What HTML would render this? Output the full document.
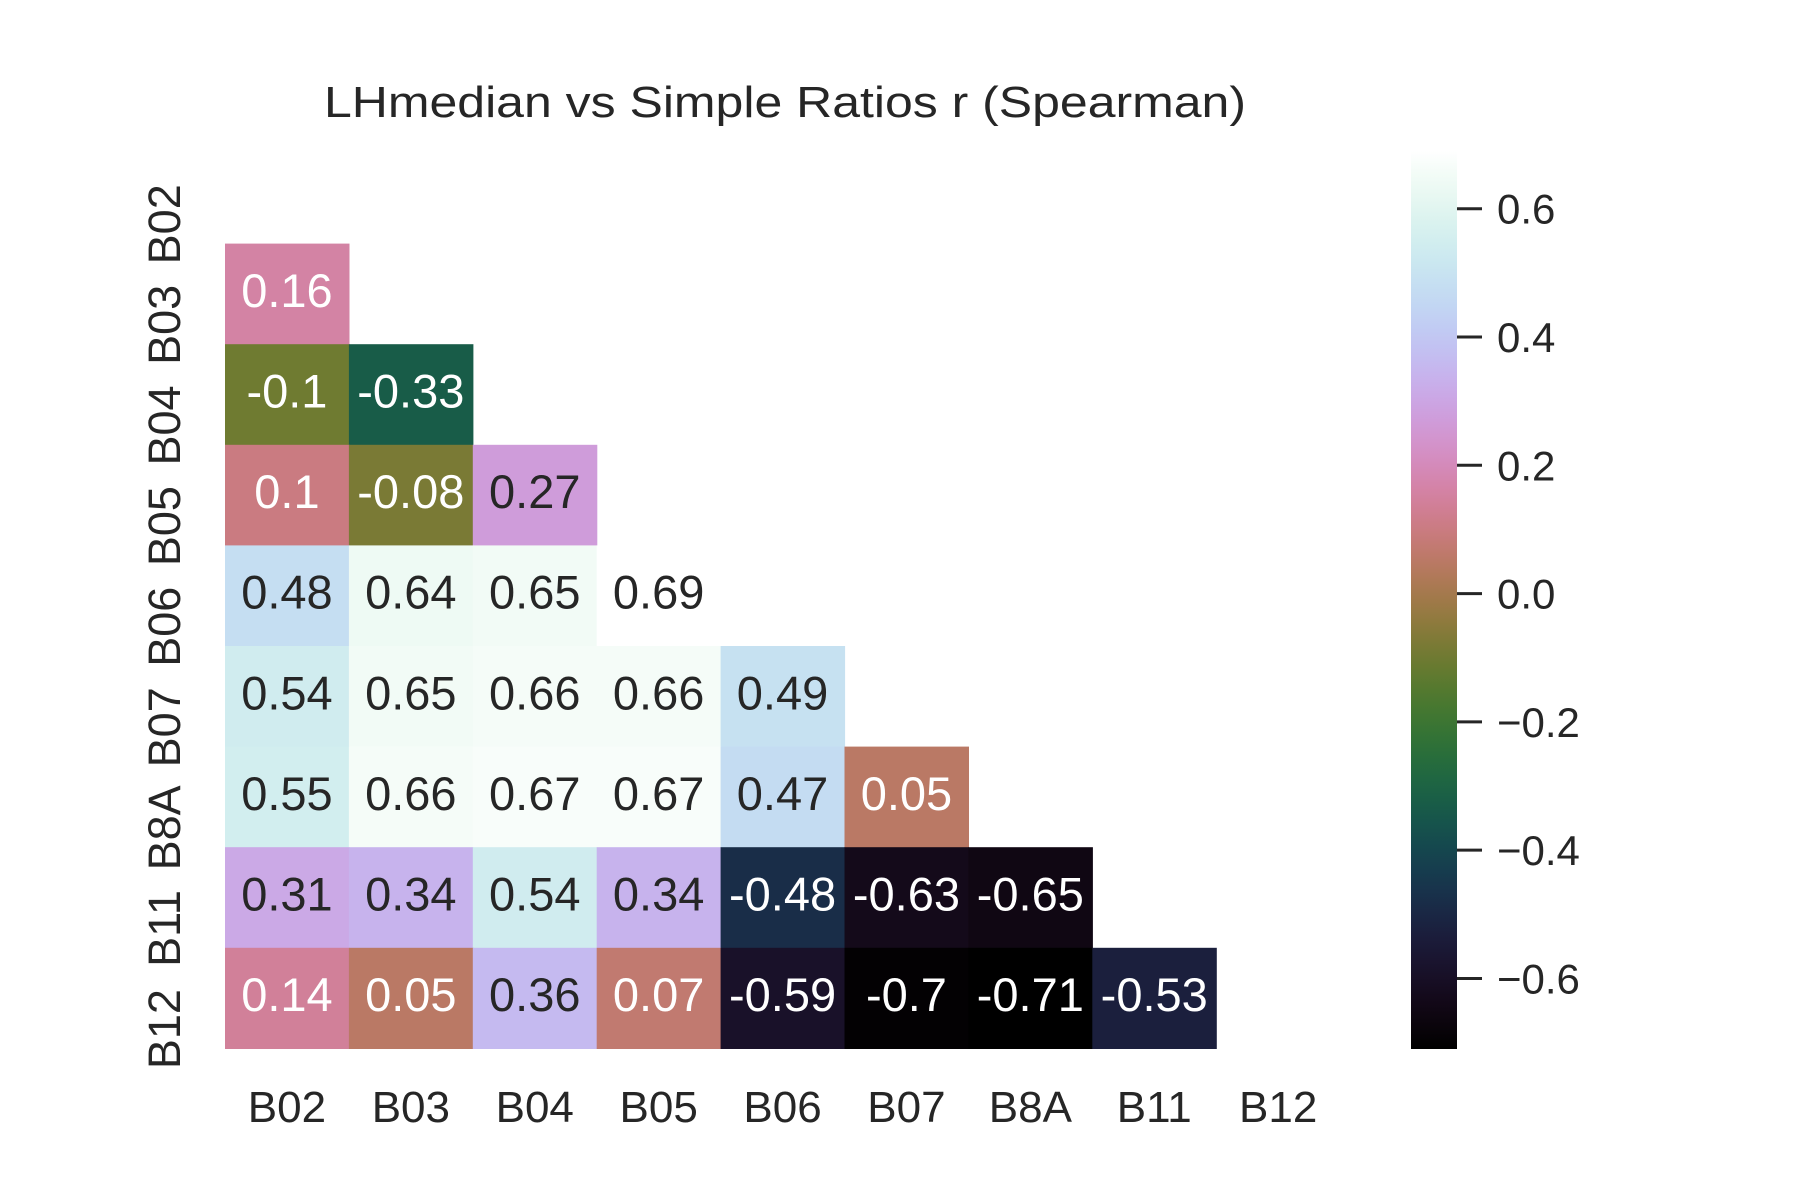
<!DOCTYPE html>
<html><head><meta charset="utf-8"><style>
html,body{margin:0;padding:0;background:#fff;}
svg{display:block;font-family:"Liberation Sans",Arial,sans-serif;}
</style></head><body>
<svg id="chart" width="1800" height="1200" viewBox="0 0 1800 1200" xmlns="http://www.w3.org/2000/svg">
<text x="785" y="117" font-size="44" text-anchor="middle" fill="#262626" textLength="922" lengthAdjust="spacingAndGlyphs">LHmedian vs Simple Ratios r (Spearman)</text>
<g id="cells"></g>
<g id="xlabels"></g>
<g id="ylabels"></g>
<defs><linearGradient id="cbgrad" x1="0" y1="1" x2="0" y2="0"></linearGradient></defs>
<rect x="1411" y="151" width="46" height="898" fill="url(#cbgrad)"/>
<g id="cbticks"></g>
</svg>
<script>
const bands = ["B02","B03","B04","B05","B06","B07","B8A","B11","B12"];
const rowB03 = [0.16];
const rowB04 = [-0.1,-0.33];
const rowB05 = [0.1,-0.08,0.27];
const rowB06 = [0.48,0.64,0.65,0.69];
const rowB07 = [0.54,0.65,0.66,0.66,0.49];
const rowB8A = [0.55,0.66,0.67,0.67,0.47,0.05];
const rowB11 = [0.31,0.34,0.54,0.34,-0.48,-0.63,-0.65];
const rowB12 = [0.14,0.05,0.36,0.07,-0.59,-0.7,-0.71,-0.53];
const rows = [[],rowB03,rowB04,rowB05,rowB06,rowB07,rowB8A,rowB11,rowB12];
const cbTicks = [0.6,0.4,0.2,0.0,-0.2,-0.4,-0.6];
const cbTickLabels = ["0.6","0.4","0.2","0.0","\u22120.2","\u22120.4","\u22120.6"];
const vmin=-0.71, vmax=0.69;

const NS="http://www.w3.org/2000/svg";
const X0=225, Y0=143, CW=123.9, CH=100.6;
const xPos=i=>X0+i*CW, yPos=j=>Y0+j*CH;
const cbTop=151, cbBot=1049;
const cbY=v=>cbBot-(v-vmin)/(vmax-vmin)*(cbBot-cbTop);

function cubehelix(x){
  const s=0.5,r=-1.5,h=1.0;
  const a=h*x*(1-x)/2, phi=2*Math.PI*(s/3+r*x);
  const c=Math.cos(phi), sn=Math.sin(phi);
  let R=x+a*(-0.14861*c+1.78277*sn), G=x+a*(-0.29227*c-0.90649*sn), B=x+a*(1.97294*c);
  return [R,G,B].map(v=>Math.max(0,Math.min(1,v)));
}
function toCss(rgb){return "rgb("+rgb.map(v=>Math.round(v*255)).join(",")+")";}
function lum(rgb){const l=rgb.map(v=>v<=0.03928?v/12.92:Math.pow((v+0.055)/1.055,2.4));return 0.2126*l[0]+0.7152*l[1]+0.0722*l[2];}

const grad=document.getElementById('cbgrad');
for(let k=0;k<=40;k++){
  const st=document.createElementNS(NS,'stop');
  st.setAttribute('offset',(k/40));
  st.setAttribute('stop-color',toCss(cubehelix(k/40)));
  grad.appendChild(st);
}

const cells=document.getElementById('cells');
rows.forEach((row,j)=>{
  row.forEach((v,i)=>{
    const rgb=cubehelix((v-vmin)/(vmax-vmin));
    const r=document.createElementNS(NS,'rect');
    
    
    r.setAttribute('x',xPos(i));r.setAttribute('y',yPos(j));
    r.setAttribute('width',CW+0.6);r.setAttribute('height',CH+0.6);
    r.setAttribute('fill',toCss(rgb));
    cells.appendChild(r);
    const t=document.createElementNS(NS,'text');
    
    
    t.setAttribute('x',xPos(i)+CW/2);t.setAttribute('y',yPos(j)+CH/2+13);
    t.setAttribute('text-anchor','middle');t.setAttribute('font-size','47');
    t.setAttribute('fill',lum(rgb)>0.408?'#262626':'#ffffff');
    t.textContent=String(v);
    cells.appendChild(t);
  });
});

const xl=document.getElementById('xlabels'), yl=document.getElementById('ylabels');
bands.forEach((b,i)=>{
  const t=document.createElementNS(NS,'text');
  
  
  t.setAttribute('x',xPos(i)+CW/2);t.setAttribute('y',1122);
  t.setAttribute('text-anchor','middle');t.setAttribute('font-size','44');t.setAttribute('fill','#262626');
  t.textContent=b;xl.appendChild(t);
  const u=document.createElementNS(NS,'text');
  
  
  const cy=yPos(i)+CH/2+31;
  u.setAttribute('transform','translate(180,'+cy+') rotate(-90)');
  u.setAttribute('text-anchor','middle');u.setAttribute('font-size','45');u.setAttribute('fill','#262626');
  u.textContent=b;yl.appendChild(u);
});

const cbt=document.getElementById('cbticks');
cbTicks.forEach((v,k)=>{
  const y=cbY(v);
  const l=document.createElementNS(NS,'line');
  
  
  l.setAttribute('x1',1457);l.setAttribute('x2',1482);l.setAttribute('y1',y);l.setAttribute('y2',y);
  l.setAttribute('stroke','#262626');l.setAttribute('stroke-width','3');
  cbt.appendChild(l);
  const t=document.createElementNS(NS,'text');
  
  
  t.setAttribute('x',1497);t.setAttribute('y',y+15);
  t.setAttribute('font-size','42');t.setAttribute('fill','#262626');
  t.textContent=cbTickLabels[k];cbt.appendChild(t);
});
</script>
</body></html>
